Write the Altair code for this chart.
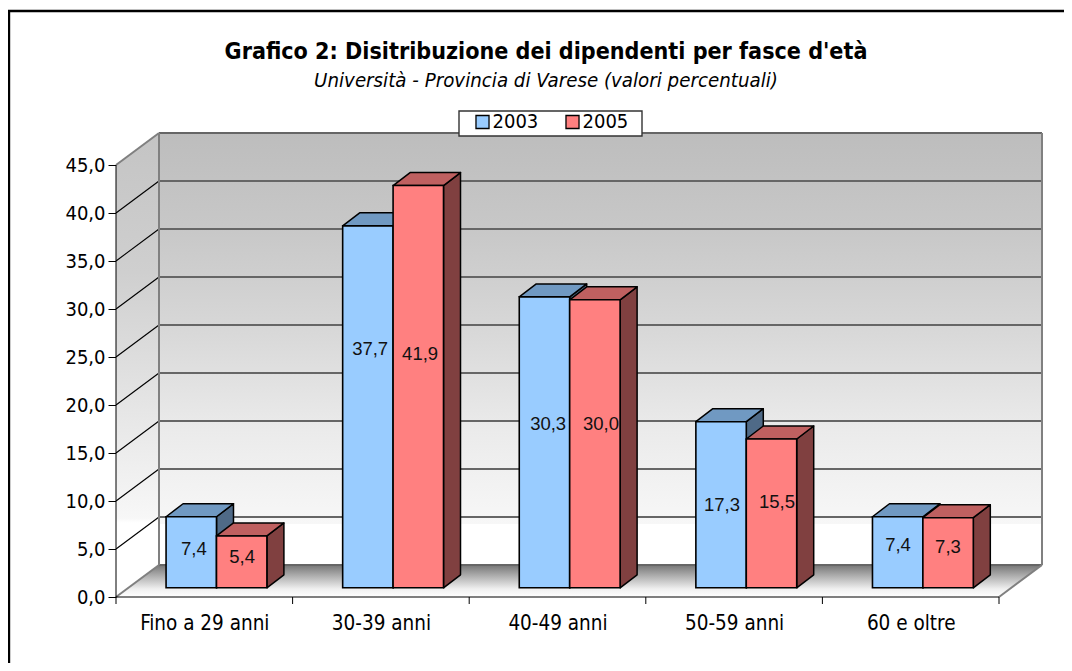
import altair as alt
import pandas as pd

categories = ["Fino a 29 anni", "30-39 anni", "40-49 anni", "50-59 anni", "60 e oltre"]
series = ["2003", "2005"]
values_2003 = [7.4, 37.7, 30.3, 17.3, 7.4]
values_2005 = [5.4, 41.9, 30.0, 15.5, 7.3]
y_ticks = [0, 5, 10, 15, 20, 25, 30, 35, 40, 45]
label_x_2003 = [0.441, 1.439, 2.447, 3.431, 4.428]
label_x_2005 = [0.714, 1.722, 2.746, 3.743, 4.711]
label_y_2003 = [5.0, 25.83, 18.02, 9.58, 5.42]
label_y_2005 = [4.17, 25.31, 18.02, 9.9, 5.21]

FONT = "DejaVu Sans Condensed"
W, H = 926, 464
DX, DY = 43 / 176.6, 32 / 9.6        # depth of the box
BX, BY = 17 / 176.6, 13 / 9.6        # depth of a bar
BASE = 0.96
BAR_W = 0.2855
BAR_L = 0.2835
xs = alt.Scale(domain=[0, 5 + DX], nice=False, zero=False)
ys = alt.Scale(domain=[0, 45 + DY], nice=False, zero=False)
BLACK = "#000000"


def X(f="x", **k):
    return alt.X(f"{f}:Q", scale=xs, axis=None, **k)


def Y(f="y", **k):
    return alt.Y(f"{f}:Q", scale=ys, axis=None, **k)


def grad(stops):
    return alt.LinearGradient(
        gradient="linear", x1=0, x2=0, y1=0, y2=1,
        stops=[alt.GradientStop(color=c, offset=o) for o, c in stops],
    )


def rules(rows, color, width):
    return alt.Chart(pd.DataFrame(rows)).mark_rule(color=color, strokeWidth=width).encode(
        x=X("x"), x2="x2:Q", y=Y("y"), y2="y2:Q"
    )


# walls and floor
wall_back = alt.Chart(pd.DataFrame([dict(x=DX, x2=5 + DX, y=DY, y2=45 + DY)])).mark_rect(
    fill=grad([(0, "#bdbdbd"), (0.23, "#c8c8c8"), (0.46, "#d8d8d8"), (0.69, "#ebebeb"),
               (0.905, "#f7f7f7"), (0.906, "#ffffff"), (1, "#ffffff")])
).encode(x=X("x"), x2="x2:Q", y=Y("y"), y2="y2:Q")

wall_left = alt.Chart(pd.DataFrame([dict(x=0, y=0, y2=45), dict(x=DX, y=DY, y2=45 + DY)])).mark_area(
    fill=grad([(0, "#c4c4c4"), (0.3, "#cfcfcf"), (0.6, "#e6e6e6"), (0.83, "#f7f7f7"),
               (0.84, "#ffffff"), (1, "#ffffff")])
).encode(x=X("x"), y=Y("y"), y2="y2:Q")

floor = alt.Chart(pd.DataFrame([dict(y=0, x=0, x2=5), dict(y=DY, x=DX, x2=5 + DX)])).mark_area(
    orient="horizontal",
    fill=grad([(0, "#767676"), (0.35, "#b0b0b0"), (0.75, "#f0f0f0"), (1, "#ffffff")]),
).encode(y=Y("y"), x=X("x"), x2="x2:Q")

grid_back = rules([dict(x=DX, x2=5 + DX, y=t + DY, y2=t + DY) for t in y_ticks], "#666666", 2)
grid_side = rules([dict(x=0, x2=DX, y=t, y2=t + DY) for t in y_ticks[1:-1]], BLACK, 1.1)
edges = rules(
    [dict(x=0, x2=DX, y=45, y2=45 + DY), dict(x=0, x2=DX, y=0, y2=DY),
     dict(x=5, x2=5 + DX, y=0, y2=DY), dict(x=DX, x2=DX, y=DY, y2=45 + DY),
     dict(x=5 + DX, x2=5 + DX, y=DY, y2=45 + DY)],
    "#808080", 2,
)

# real axes: y ticks and labels, x category labels
axes = alt.Chart(pd.DataFrame({"x": [0.0], "y": [0.0]})).mark_point(opacity=0).encode(
    x=alt.X("x:Q", scale=xs, title=None, axis=alt.Axis(
        values=[i + 0.5 for i in range(5)], domain=False, ticks=False, grid=False,
        labelExpr="[" + ",".join(f"'{c}'" for c in categories) + "][floor(datum.value)]",
        labelPadding=16, labelFont=FONT, labelFontSize=20.5, labelColor=BLACK)),
    y=alt.Y("y:Q", scale=ys, title=None, axis=alt.Axis(
        values=y_ticks, domain=False, grid=False, tickColor=BLACK, tickSize=8, tickWidth=1,
        labelExpr="replace(format(datum.value,'.1f'),'.',',')",
        labelPadding=3, labelFont=FONT, labelFontSize=20, labelColor=BLACK)),
)
axis_lines = rules(
    [dict(x=0, x2=0, y=0, y2=45), dict(x=0, x2=5, y=0, y2=0)]
    + [dict(x=i, x2=i, y=0, y2=-7 / 9.6) for i in range(6)],
    BLACK, 1,
)

# bars
layers = []
colors = {"2003": ("#99ccff", "#7099c2", "#4f6a87"), "2005": ("#ff8080", "#bf6060", "#804040")}
for s_i, (name, vals) in enumerate(zip(series, [values_2003, values_2005])):
    front, top, side = colors[name]
    side_rows, top_rows, front_rows = [], [], []
    for c_i, v in enumerate(vals):
        x0 = c_i + BAR_L + s_i * BAR_W
        x1 = x0 + BAR_W
        side_rows += [dict(cat=c_i, x=x1, y=BASE, y2=BASE + v),
                      dict(cat=c_i, x=x1 + BX, y=BASE + BY, y2=BASE + v + BY)]
        top_rows += [dict(cat=c_i, y=BASE + v, x=x0, x2=x1),
                     dict(cat=c_i, y=BASE + v + BY, x=x0 + BX, x2=x1 + BX)]
        front_rows.append(dict(cat=c_i, x=x0, x2=x1, y=BASE, y2=BASE + v, serie=name))
    layers.append(alt.Chart(pd.DataFrame(side_rows)).mark_area(
        fill=side, stroke=BLACK, strokeWidth=1.5, strokeJoin="round"
    ).encode(x=X("x"), y=Y("y"), y2="y2:Q", detail="cat:N"))
    layers.append(alt.Chart(pd.DataFrame(top_rows)).mark_area(
        orient="horizontal", fill=top, stroke=BLACK, strokeWidth=1.5, strokeJoin="round"
    ).encode(y=Y("y"), x=X("x"), x2="x2:Q", detail="cat:N"))
    layers.append(alt.Chart(pd.DataFrame(front_rows)).mark_rect(
        stroke=BLACK, strokeWidth=1.6
    ).encode(
        x=X("x"), x2="x2:Q", y=Y("y"), y2="y2:Q",
        fill=alt.Fill("serie:N", scale=alt.Scale(domain=series, range=["#99ccff", "#ff8080"]),
                      legend=alt.Legend(
                          title=None, orient="none", legendX=356.5, legendY=-21, direction="horizontal",
                          columns=2, symbolType="square", symbolSize=170, symbolStrokeColor=BLACK,
                          symbolStrokeWidth=1.3, symbolOpacity=1, labelFont=FONT, labelFontSize=20,
                          labelColor=BLACK, columnPadding=24, padding=0, labelOffset=0,
                          values=series)),
    ))

# value labels
lab = pd.DataFrame({
    "x": label_x_2003 + label_x_2005,
    "y": label_y_2003 + label_y_2005,
    "t": [f"{v:.1f}".replace(".", ",") for v in values_2003 + values_2005],
})
labels = alt.Chart(lab).mark_text(
    font="Liberation Sans", fontSize=18.5, color="#111111", align="center", baseline="middle"
).encode(x=X("x"), y=Y("y"), text="t:N")

# legend box and the chart's frame
legend_box = alt.Chart(pd.DataFrame({"a": [0]})).mark_rect(
    fill="#ffffff", stroke="#333333", strokeWidth=1.4
).encode(x=alt.value(343), x2=alt.value(526), y=alt.value(-22), y2=alt.value(3))
frame_top = alt.Chart(pd.DataFrame({"a": [0]})).mark_rule(color=BLACK, strokeWidth=2.4).encode(
    x=alt.value(-108), x2=alt.value(948), y=alt.value(-122), y2=alt.value(-122))
frame_left = alt.Chart(pd.DataFrame({"a": [0]})).mark_rule(color=BLACK, strokeWidth=2.4).encode(
    x=alt.value(-107), x2=alt.value(-107), y=alt.value(-123), y2=alt.value(530))

chart = alt.layer(
    wall_back, wall_left, floor, grid_back, grid_side, edges, axis_lines,
    *layers, labels, legend_box, frame_top, frame_left, axes,
).resolve_axis(x="independent", y="independent").properties(
    width=W, height=H,
    padding={"left": 108, "top": 125, "right": 22, "bottom": 66},
    autosize=alt.AutoSizeParams(type="none"),
    title=alt.TitleParams(
        text="Grafico 2: Disitribuzione dei dipendenti per fasce d'età",
        subtitle="Università - Provincia di Varese (valori percentuali)",
        anchor="middle", dx=-33, offset=-82, font=FONT, fontSize=23.1, fontWeight="bold", color=BLACK,
        subtitleFont=FONT, subtitleFontSize=20.3, subtitleFontStyle="italic", subtitleColor=BLACK,
        subtitlePadding=6,
    ),
).configure_view(stroke=None)

chart.save("out.html", embed_options={"renderer": "svg", "actions": False})
